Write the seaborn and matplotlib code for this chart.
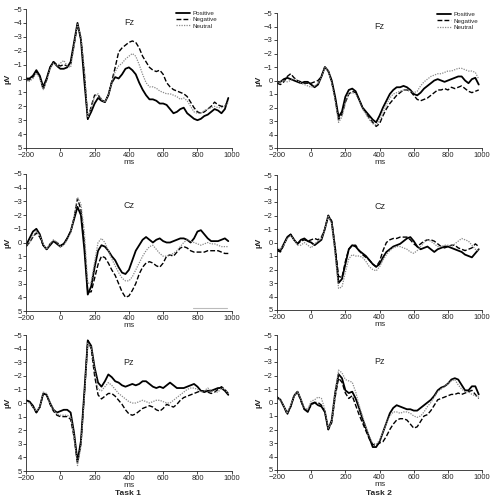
import numpy as np
import pandas as pd
import seaborn as sns
import matplotlib.pyplot as plt
from matplotlib.lines import Line2D

# time axis (ms), one sample every 20 ms
ms = list(range(-200, 1000, 20))
conditions = ["Positive", "Negative", "Neutral"]
tasks = ["Task 1", "Task 2"]
sites = ["Fz", "Cz", "Pz"]

# ---- Task 1, Fz
t1_fz_pos = [0.0, 0.0, -0.2, -0.6, -0.2, 0.6, 0.0, -0.8, -1.2, -0.9,
             -0.7, -0.7, -0.8, -1.2, -2.6, -4.0, -2.8, 0.2, 2.9, 2.4,
             1.8, 1.4, 1.6, 1.7, 1.2, 0.3, -0.1, 0.0, -0.3, -0.7,
             -0.8, -0.6, -0.3, 0.3, 0.8, 1.2, 1.5, 1.5, 1.6, 1.8,
             1.8, 1.9, 2.2, 2.5, 2.4, 2.2, 2.1, 2.5, 2.7, 2.9,
             3.0, 2.9, 2.7, 2.6, 2.4, 2.2, 2.3, 2.5, 2.2, 1.4]
t1_fz_neg = [0.1, 0.1, -0.1, -0.5, -0.1, 0.8, 0.1, -0.8, -1.2, -1.0,
             -0.9, -1.0, -0.9, -1.0, -2.4, -3.9, -2.9, -0.4, 3.0, 2.0,
             1.2, 1.2, 1.5, 1.7, 1.2, 0.2, -0.8, -1.9, -2.2, -2.4,
             -2.6, -2.7, -2.6, -2.2, -1.6, -1.2, -0.8, -0.6, -0.5, -0.6,
             -0.3, 0.3, 0.6, 0.8, 0.9, 1.0, 1.1, 1.3, 1.7, 2.1,
             2.4, 2.5, 2.4, 2.2, 2.0, 1.7, 1.9, 2.0, 2.0, 1.6]
t1_fz_neu = [0.2, 0.2, 0.0, -0.4, 0.0, 0.8, 0.2, -0.7, -1.1, -0.9,
             -1.1, -1.3, -0.9, -0.8, -2.4, -3.9, -3.0, -0.6, 2.8, 2.1,
             1.3, 1.1, 1.5, 1.7, 1.2, 0.3, -0.5, -0.9, -1.1, -1.4,
             -1.6, -1.8, -1.6, -1.0, -0.3, 0.3, 0.6, 0.6, 0.7, 0.9,
             1.0, 1.1, 1.1, 1.2, 1.3, 1.5, 1.4, 1.6, 2.0, 2.4,
             2.5, 2.5, 2.3, 2.2, 2.1, 2.0, 2.1, 2.1, 2.0, 1.7]

# ---- Task 2, Fz
t2_fz_pos = [0.1, 0.1, -0.1, -0.2, -0.1, 0.0, 0.1, 0.2, 0.1, 0.1,
             0.3, 0.5, 0.3, -0.3, -1.0, -0.7, 0.0, 1.2, 2.7, 2.3,
             1.2, 0.7, 0.6, 0.8, 1.4, 2.0, 2.3, 2.6, 2.9, 3.1,
             2.6, 2.0, 1.5, 1.0, 0.7, 0.5, 0.5, 0.4, 0.5, 0.7,
             1.0, 1.1, 0.9, 0.6, 0.4, 0.2, 0.0, -0.1, 0.0, 0.1,
             0.0, -0.1, -0.2, -0.3, -0.3, 0.0, 0.2, -0.1, -0.2, 0.3]
t2_fz_neg = [0.2, 0.3, 0.1, -0.3, -0.5, -0.2, 0.0, 0.1, 0.2, 0.2,
             0.2, 0.1, 0.0, -0.3, -1.0, -0.7, 0.1, 1.3, 2.9, 2.5,
             1.6, 1.0, 0.8, 0.9, 1.4, 2.0, 2.4, 2.8, 3.1, 3.4,
             3.2, 2.6, 2.1, 1.7, 1.4, 1.1, 0.9, 0.7, 0.7, 0.8,
             1.1, 1.4, 1.5, 1.4, 1.3, 1.1, 0.9, 0.7, 0.7, 0.6,
             0.7, 0.5, 0.6, 0.5, 0.4, 0.6, 0.8, 0.9, 0.8, 0.7]
t2_fz_neu = [0.1, 0.1, 0.0, 0.1, 0.0, -0.1, 0.0, 0.2, 0.3, 0.4,
             0.5, 0.4, 0.2, -0.2, -1.0, -0.7, 0.2, 1.5, 3.1, 2.7,
             1.7, 1.0, 0.9, 1.0, 1.5, 2.1, 2.5, 2.9, 3.2, 3.3,
             3.0, 2.4, 1.8, 1.3, 1.0, 0.9, 0.8, 0.7, 0.7, 0.8,
             0.9, 0.8, 0.4, 0.1, -0.1, -0.3, -0.4, -0.5, -0.5, -0.6,
             -0.7, -0.7, -0.8, -0.9, -0.9, -0.8, -0.7, -0.7, -0.6, -0.1]

# ---- Task 1, Cz
t1_cz_pos = [0.2, -0.3, -0.8, -1.0, -0.6, 0.2, 0.5, 0.2, -0.1, 0.1,
             0.3, 0.1, -0.3, -0.8, -1.7, -2.6, -2.0, 0.5, 3.8, 3.2,
             1.8, 0.6, 0.2, 0.3, 0.6, 1.0, 1.3, 1.8, 2.2, 2.3,
             2.0, 1.3, 0.6, 0.2, -0.2, -0.4, -0.2, 0.0, -0.2, -0.3,
             -0.1, 0.0, 0.0, -0.1, -0.2, -0.3, -0.3, -0.2, 0.0, -0.3,
             -0.8, -0.9, -0.6, -0.3, -0.1, -0.1, -0.1, -0.2, -0.3, -0.1]
t1_cz_neg = [0.3, 0.0, -0.4, -0.7, -0.4, 0.2, 0.5, 0.1, -0.1, 0.0,
             0.2, 0.1, -0.3, -0.8, -1.8, -3.2, -2.4, 0.0, 3.6, 3.6,
             2.6, 1.6, 1.0, 1.1, 1.5, 2.0, 2.4, 3.0, 3.6, 4.0,
             3.9, 3.5, 3.0, 2.3, 1.8, 1.5, 1.4, 1.5, 1.7, 1.8,
             1.5, 1.0, 0.9, 1.0, 0.7, 0.4, 0.3, 0.4, 0.6, 0.7,
             0.7, 0.7, 0.7, 0.6, 0.6, 0.6, 0.6, 0.7, 0.8, 0.8]
t1_cz_neu = [0.3, 0.0, -0.5, -0.8, -0.5, 0.1, 0.5, 0.1, -0.2, 0.0,
             0.3, 0.2, -0.2, -0.7, -1.9, -3.3, -2.8, -0.8, 3.0, 2.9,
             1.4, 0.0, -0.3, 0.0, 0.6, 1.2, 1.7, 2.2, 2.6, 2.8,
             2.8, 2.5, 2.0, 1.5, 1.0, 0.6, 0.3, 0.2, 0.5, 0.8,
             1.0, 1.0, 0.9, 0.8, 0.6, 0.3, 0.0, -0.2, -0.1, 0.0,
             0.1, 0.2, 0.1, 0.0, 0.1, 0.1, 0.2, 0.3, 0.3, 0.3]

# ---- Task 2, Cz
t2_cz_pos = [0.5, 0.6, 0.1, -0.4, -0.6, -0.2, 0.1, -0.2, -0.3, -0.1,
             0.0, 0.2, 0.0, -0.2, -1.0, -2.0, -1.5, 0.5, 3.0, 2.7,
             1.6, 0.5, 0.2, 0.3, 0.6, 0.8, 1.0, 1.3, 1.6, 1.8,
             1.6, 1.1, 0.7, 0.5, 0.3, 0.2, 0.1, -0.1, -0.3, -0.4,
             -0.1, 0.3, 0.5, 0.4, 0.3, 0.5, 0.7, 0.5, 0.4, 0.3,
             0.3, 0.4, 0.5, 0.6, 0.7, 0.9, 1.0, 1.1, 0.8, 0.5]
t2_cz_neg = [0.6, 0.7, 0.2, -0.4, -0.6, -0.2, 0.1, -0.1, -0.2, -0.1,
             -0.2, -0.3, -0.2, -0.4, -1.0, -2.0, -1.6, 0.3, 2.5, 2.6,
             1.4, 0.5, 0.2, 0.2, 0.6, 0.9, 1.1, 1.3, 1.6, 1.8,
             1.4, 0.6, 0.0, -0.2, -0.3, -0.3, -0.4, -0.4, -0.4, -0.2,
             0.1, 0.3, 0.1, -0.1, -0.2, -0.2, -0.1, 0.1, 0.3, 0.4,
             0.3, 0.2, 0.2, 0.4, 0.5, 0.6, 0.5, 0.4, 0.1, 0.3]
t2_cz_neu = [0.4, 0.5, 0.2, -0.3, -0.5, -0.2, 0.2, 0.2, 0.0, 0.2,
             0.4, 0.1, -0.1, -0.3, -1.0, -2.0, -1.4, 0.8, 3.4, 3.3,
             2.2, 1.2, 0.9, 1.0, 1.0, 1.1, 1.4, 1.8, 2.0, 2.1,
             1.8, 1.3, 0.9, 0.6, 0.4, 0.3, 0.3, 0.4, 0.5, 0.7,
             0.8, 0.6, 0.3, 0.0, -0.2, -0.1, 0.1, 0.3, 0.3, 0.2,
             0.2, 0.3, 0.1, -0.1, -0.3, -0.2, -0.1, 0.2, 0.5, 0.6]

# ---- Task 1, Pz
t1_pz_pos = [-0.2, -0.1, 0.2, 0.7, 0.3, -0.7, -0.6, 0.0, 0.5, 0.7,
             0.6, 0.5, 0.5, 0.7, 2.2, 4.3, 2.8, -0.8, -4.6, -4.2,
             -2.6, -1.5, -1.2, -1.6, -2.1, -1.9, -1.6, -1.5, -1.3, -1.2,
             -1.3, -1.4, -1.3, -1.4, -1.6, -1.6, -1.4, -1.2, -1.1, -1.2,
             -1.1, -1.3, -1.5, -1.3, -1.1, -1.1, -1.1, -1.2, -1.3, -1.4,
             -1.2, -0.9, -0.8, -0.9, -0.9, -1.0, -1.1, -1.1, -0.9, -0.6]
t1_pz_neg = [-0.2, -0.1, 0.3, 0.7, 0.3, -0.7, -0.6, 0.1, 0.6, 0.9,
             1.0, 1.0, 1.0, 1.2, 2.5, 4.4, 3.0, -0.6, -4.6, -4.0,
             -2.0, -0.6, -0.3, -0.5, -0.7, -0.7, -0.5, -0.2, 0.1, 0.5,
             0.8, 0.9, 0.8, 0.6, 0.4, 0.3, 0.2, 0.3, 0.5, 0.6,
             0.4, 0.1, 0.2, 0.3, 0.1, -0.2, -0.4, -0.5, -0.6, -0.7,
             -0.8, -0.9, -0.9, -0.8, -0.7, -0.8, -1.0, -1.2, -1.0, -0.7]
t1_pz_neu = [-0.1, 0.0, 0.3, 0.6, 0.3, -0.8, -0.7, 0.0, 0.5, 0.8,
             0.9, 0.9, 0.9, 1.0, 2.4, 4.6, 3.2, -0.4, -4.4, -4.1,
             -2.4, -1.0, -0.9, -1.2, -1.5, -1.3, -1.0, -0.7, -0.5, -0.3,
             -0.1, 0.0, 0.0, -0.1, -0.2, -0.1, 0.0, -0.1, -0.2, -0.2,
             -0.1, 0.0, 0.0, -0.2, -0.4, -0.6, -0.8, -1.0, -1.1, -1.1,
             -1.0, -0.8, -0.9, -1.1, -0.9, -0.8, -0.8, -1.1, -1.0, -0.7]

# ---- Task 2, Pz
t2_pz_pos = [-0.4, -0.2, 0.3, 0.8, 0.3, -0.5, -0.8, -0.2, 0.5, 0.7,
             0.1, 0.0, 0.2, 0.3, 0.7, 2.0, 1.3, -0.7, -2.1, -1.8,
             -0.9, -0.7, -0.8, -0.3, 0.4, 1.2, 1.9, 2.6, 3.3, 3.3,
             2.9, 2.2, 1.5, 0.8, 0.4, 0.2, 0.3, 0.4, 0.5, 0.5,
             0.6, 0.6, 0.4, 0.2, 0.0, -0.2, -0.5, -0.9, -1.1, -1.2,
             -1.4, -1.7, -1.8, -1.7, -1.3, -0.9, -0.9, -1.2, -1.2, -0.6]
t2_pz_neg = [-0.4, -0.2, 0.3, 0.9, 0.3, -0.5, -0.8, -0.1, 0.5, 0.6,
             0.2, 0.0, 0.0, 0.2, 0.7, 2.0, 1.5, -0.4, -1.8, -1.5,
             -0.7, -0.3, -0.5, 0.2, 0.9, 1.5, 2.1, 2.7, 3.1, 3.2,
             3.0, 2.9, 2.5, 2.0, 1.6, 1.3, 1.2, 1.2, 1.3, 1.6,
             1.9, 1.8, 1.4, 1.0, 0.9, 0.6, 0.2, -0.2, -0.3, -0.4,
             -0.5, -0.6, -0.6, -0.7, -0.6, -0.7, -0.8, -0.9, -0.6, -0.3]
t2_pz_neu = [-0.4, -0.2, 0.3, 0.8, 0.2, -0.5, -0.8, -0.2, 0.4, 0.5,
             -0.1, -0.2, -0.4, -0.3, 0.5, 1.9, 1.4, -0.7, -2.4, -2.2,
             -1.7, -1.6, -1.5, -0.8, 0.2, 1.0, 1.8, 2.5, 3.0, 3.1,
             2.8, 2.2, 1.5, 1.0, 0.7, 0.7, 0.8, 0.7, 0.7, 0.8,
             1.0, 1.1, 1.0, 0.7, 0.3, 0.0, -0.4, -0.8, -1.0, -1.2,
             -1.4, -1.6, -1.7, -1.3, -1.0, -0.8, -0.8, -0.6, -0.5, -0.4]

# grey bar left in the Task 1 / Cz panel
cz_bar_ms = [775, 970]
cz_bar_uv = [4.8, 4.8]

waves = {
    ("Task 1", "Fz"): [t1_fz_pos, t1_fz_neg, t1_fz_neu],
    ("Task 2", "Fz"): [t2_fz_pos, t2_fz_neg, t2_fz_neu],
    ("Task 1", "Cz"): [t1_cz_pos, t1_cz_neg, t1_cz_neu],
    ("Task 2", "Cz"): [t2_cz_pos, t2_cz_neg, t2_cz_neu],
    ("Task 1", "Pz"): [t1_pz_pos, t1_pz_neg, t1_pz_neu],
    ("Task 2", "Pz"): [t2_pz_pos, t2_pz_neg, t2_pz_neu],
}

rows = []
for (task, site), series in waves.items():
    for cond, vals in zip(conditions, series):
        for t, v in zip(ms, vals):
            rows.append((task, site, cond, t, v))
df = pd.DataFrame(rows, columns=["task", "site", "condition", "ms", "uV"])

sns.set_style("ticks")
plt.rcParams["font.family"] = ["Liberation Sans", "DejaVu Sans"]

palette = {"Positive": "black", "Negative": "black", "Neutral": "#8a8a8a"}
dashes = {"Positive": "", "Negative": (3.5, 1.5), "Neutral": (1, 1)}
sizes = {"Positive": 1.3, "Negative": 1.0, "Neutral": 0.9}

# axes rectangles [left, bottom, width, height] in figure fractions
positions = {
    ("Task 1", "Fz"): [0.053, 0.704, 0.418, 0.278],
    ("Task 2", "Fz"): [0.563, 0.704, 0.417, 0.270],
    ("Task 1", "Cz"): [0.053, 0.378, 0.418, 0.274],
    ("Task 2", "Cz"): [0.563, 0.380, 0.417, 0.270],
    ("Task 1", "Pz"): [0.053, 0.058, 0.418, 0.272],
    ("Task 2", "Pz"): [0.563, 0.060, 0.417, 0.270],
}
label_y = {"Fz": -4.0, "Cz": -2.7, "Pz": -3.0}

fig = plt.figure(figsize=(4.92, 5.0), dpi=100)
tick_size = 5.5

for (task, site), rect in positions.items():
    ax = fig.add_axes(rect)
    sub = df[(df.task == task) & (df.site == site)]
    sns.lineplot(data=sub, x="ms", y="uV", hue="condition", style="condition",
                 size="condition", hue_order=conditions, style_order=conditions,
                 size_order=conditions, palette=palette, dashes=dashes,
                 sizes=sizes, estimator=None, legend=False, ax=ax)
    ax.set_xlim(-200, 1000)
    ax.set_ylim(5, -5)
    ax.set_xticks(range(-200, 1001, 200))
    ax.set_yticks(range(-5, 6))
    ax.tick_params(labelsize=tick_size, length=2, width=0.6, pad=1)
    for s in ["left", "bottom"]:
        ax.spines[s].set_linewidth(0.6)
    sns.despine(ax=ax)
    ax.set_xlabel("ms", fontsize=6, labelpad=0)
    ax.set_ylabel("µV", fontsize=6, fontweight="bold", labelpad=1)
    ax.text(400, label_y[site], site, fontsize=6.5, ha="center", va="center")

    if (task, site) == ("Task 1", "Cz"):
        ax.plot(cz_bar_ms, cz_bar_uv, color="#bbbbbb", lw=0.8)

    if site == "Fz":
        handles = [Line2D([], [], color=palette[c], lw=sizes[c],
                          dashes=dashes[c] if dashes[c] else (None, None))
                   for c in conditions]
        anchor = (0.71, 1.02) if task == "Task 1" else (0.76, 1.04)
        ax.legend(handles, conditions, loc="upper left", bbox_to_anchor=anchor,
                  frameon=False, fontsize=4.5, handlelength=2.2,
                  handletextpad=0.4, labelspacing=0.15, borderpad=0.2)

fig.text(0.26, 0.006, "Task 1", ha="center", va="bottom",
         fontsize=6, fontweight="bold")
fig.text(0.77, 0.006, "Task 2", ha="center", va="bottom",
         fontsize=6, fontweight="bold")

fig.savefig("out.png", dpi=100)
